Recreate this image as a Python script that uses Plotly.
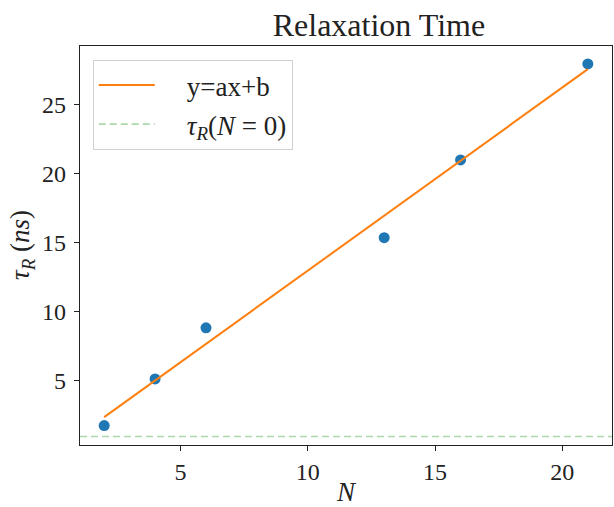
import plotly.graph_objects as go

# Data
N = [2, 4, 6, 13, 16, 21]
tau = [1.74, 5.12, 8.82, 15.36, 20.99, 27.95]

# Linear fit line (endpoints as read)
fit_x = [2, 21]
fit_y = [2.35, 27.57]

tau0 = 0.95

x_range = [1.05, 21.95]
y_range = [0.33, 29.25]
x_ticks = [5, 10, 15, 20]
y_ticks = [5, 10, 15, 20, 25]

FONT = "Liberation Serif"
PAD = "\u00a0\u00a0\u00a0\u00a0"

fig = go.Figure()
fig.add_trace(go.Scatter(
    x=N, y=tau, mode="markers",
    marker=dict(color="#1f77b4", size=11),
    showlegend=False,
))
fig.add_trace(go.Scatter(
    x=fit_x, y=fit_y, mode="lines",
    line=dict(color="#ff7f0e", width=2),
    name=PAD + "y=ax+b", legendgroup="a",
))
fig.add_trace(go.Scatter(
    x=x_range, y=[tau0, tau0], mode="lines",
    line=dict(color="rgba(44,160,44,0.4)", width=1.6, dash="7px,4px"),
    name=PAD + "<i>τ<sub>R</sub></i>(<i>N</i> = 0)", legendgroup="b",
))

fig.update_layout(
    width=614, height=507,
    margin=dict(l=80, r=2, t=46, b=62),
    paper_bgcolor="white", plot_bgcolor="white",
    font=dict(family=FONT, size=24, color="#222"),
    title=dict(text="Relaxation Time", x=345 / 614, xref="paper", xanchor="center",
               y=1 - 25 / 507, yanchor="middle", font=dict(size=32, family=FONT)),
    legend=dict(x=0.024, y=0.965, xanchor="left", yanchor="top",
                bgcolor="rgba(255,255,255,0.8)", bordercolor="#d0d0d0",
                borderwidth=1, font=dict(size=27, family=FONT),
                itemwidth=56, tracegroupgap=1),
    showlegend=True,
    annotations=[dict(
        text="<i>τ<sub>R</sub></i> (<i>ns</i>)", textangle=-90,
        xref="paper", yref="paper", x=(22 - 80) / 532, y=(445 - 245) / 399,
        xanchor="center", yanchor="middle", showarrow=False,
        font=dict(size=27, family=FONT, color="#222"),
    )],
)
fig.update_xaxes(
    range=x_range, tickvals=x_ticks, showgrid=False, zeroline=False,
    showline=True, linecolor="#222", linewidth=1.2, mirror=True,
    ticks="outside", ticklen=5, tickcolor="#222",
    tickfont=dict(size=24, family=FONT),
    title=dict(text="<i>N</i>", font=dict(size=27, family=FONT), standoff=2),
)
fig.update_yaxes(
    range=y_range, tickvals=y_ticks, showgrid=False, zeroline=False,
    showline=True, linecolor="#222", linewidth=1.2, mirror=True,
    ticks="outside", ticklen=5, tickcolor="#222", ticklabelstandoff=3,
    tickfont=dict(size=24, family=FONT),
)

fig.write_html("out.html", config={"displayModeBar": False},
               post_script="document.body.style.margin='0';")
